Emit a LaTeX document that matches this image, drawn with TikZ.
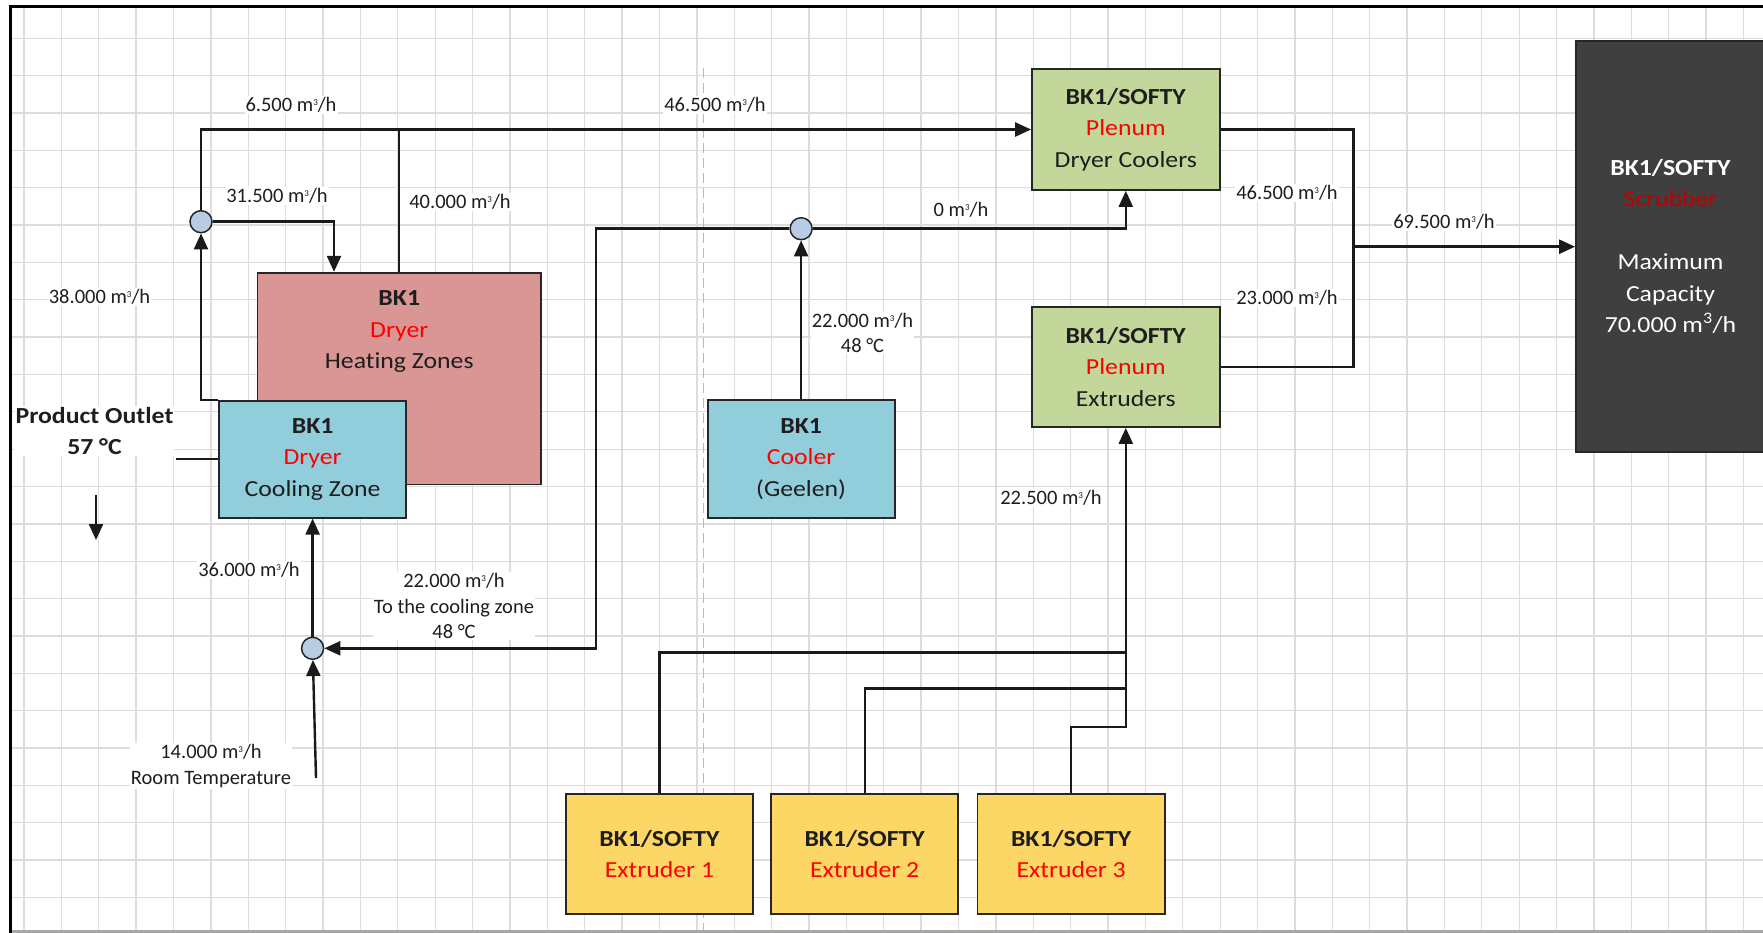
\documentclass[tikz,border=0pt]{standalone}
\usepackage{fontspec}
\setmainfont{Carlito}[Ligatures=NoCommon]
\newfontfamily\boxfont{Carlito}[FakeStretch=1.12,Ligatures=NoCommon]
\usetikzlibrary{arrows.meta}
\definecolor{heatc}{HTML}{D99694}
\definecolor{coolc}{HTML}{92CDDC}
\definecolor{plenc}{HTML}{C4D79B}
\definecolor{extc}{HTML}{FCD766}
\definecolor{scrc}{HTML}{3F3F3F}
\definecolor{juncc}{HTML}{B8CCE4}
\definecolor{gridc}{HTML}{DDDDDD}
\definecolor{txt}{HTML}{1E1E1E}
\definecolor{linec}{HTML}{1A1A1A}
\definecolor{boxline}{HTML}{262626}
\definecolor{redt}{HTML}{FF0000}
\definecolor{darkred}{HTML}{C00000}
\newcommand\cubh{m\raisebox{0.62ex}{\fontsize{9}{9}\selectfont 3}/h}
\begin{document}
\begin{tikzpicture}[x=1pt,y=-1pt,
  box/.style={draw=boxline, line width=1.8pt, inner sep=0pt, align=center,
    font=\boxfont\fontsize{23}{31.5}\selectfont, text=txt},
  conn/.style={line width=2.4pt, draw=linec},
  arr/.style={conn, -{Triangle[length=16pt,width=14pt]}},
  lbl/.style={fill=white, inner sep=1pt, align=center,
    font=\fontsize{20.5}{25.5}\selectfont, text=txt},
  junc/.style={circle, draw=boxline, fill=juncc, minimum size=22pt, inner sep=0pt, line width=1.5pt}]
\useasboundingbox (0,0) rectangle (1763,933);
\fill[white] (0,0) rectangle (1763,933);
% grid
\foreach \i in {0,...,46} \draw[gridc, line width=1.3pt] ({24+37.38*\i},7) -- ({24+37.38*\i},931);
\foreach \j in {0,...,23} \draw[gridc, line width=1.3pt] (10,{38.3+37.35*\j}) -- (1763,{38.3+37.35*\j});
% dashed divider
\draw[gray!55, line width=1.5pt, dash pattern=on 10pt off 5pt] (703.5,68) -- (703.5,931);
% frame
\draw[gray!70, line width=3pt] (10,931) -- (1763,931);
\draw[black, line width=3pt] (10,933) -- (10,7) -- (1763,7);

% boxes
\node[box, fill=heatc, minimum width=283.5pt, minimum height=211.8pt] (heat) at (399.25,378.6) {};
\node[align=center, font=\boxfont\fontsize{23}{31.5}\selectfont, text=txt, inner sep=0pt] (heattext) at (399.25,332)
  {\textbf{BK1}\\\textcolor{redt}{Dryer}\\Heating Zones};
\node[box, fill=coolc, minimum width=187.4pt, minimum height=117pt] (cool) at (312.6,459.2)
  {\textbf{BK1}\\\textcolor{redt}{Dryer}\\Cooling Zone};
\node[box, fill=coolc, minimum width=187pt, minimum height=118pt] (cooler) at (801.1,459)
  {\textbf{BK1}\\\textcolor{redt}{Cooler}\\(Geelen)};
\node[box, fill=plenc, minimum width=187.6pt, minimum height=121pt] (DC) at (1125.8,129.5)
  {\textbf{BK1/SOFTY}\\\textcolor{redt}{Plenum}\\Dryer Coolers};
\node[box, fill=plenc, minimum width=187.6pt, minimum height=120pt] (ext) at (1125.8,367)
  {\textbf{BK1/SOFTY}\\\textcolor{redt}{Plenum}\\Extruders};
\node[box, fill=scrc, minimum width=189pt, minimum height=411pt, text=white] (scr) at (1670.5,246.2)
  {\textbf{BK1/SOFTY}\\\textcolor{darkred}{Scrubber}\\[31.5pt]Maximum\\Capacity\\70.000 m\textsuperscript{3}/h};
\node[box, fill=extc, minimum width=187.3pt, minimum height=120pt] (e1) at (659.5,854)
  {\textbf{BK1/SOFTY}\\\textcolor{redt}{Extruder 1}};
\node[box, fill=extc, minimum width=187.3pt, minimum height=120pt] (e2) at (864.7,854)
  {\textbf{BK1/SOFTY}\\\textcolor{redt}{Extruder 2}};
\node[box, fill=extc, minimum width=187.3pt, minimum height=120pt] (e3) at (1071.2,854)
  {\textbf{BK1/SOFTY}\\\textcolor{redt}{Extruder 3}};

% junctions
\node[junc] (j1) at (201,221.7) {};
\node[junc] (j2) at (312.6,648.3) {};
\node[junc] (j3) at (801.1,228.7) {};

% coordinates
\coordinate (bendA) at (596,228.7);
\coordinate (roomin) at (316,778);
\coordinate (mrg) at (1353.3,246.7);
\coordinate (t1) at (1125.8,652.3);
\coordinate (t2) at (1125.8,688.3);
\coordinate (t3) at (1125.8,726.7);
\coordinate (po) at (176,459.2);
\coordinate (pa1) at (96,495);
\coordinate (pa2) at (96,540);

% connectors
\draw[conn] (heat.north) -- (heat.north |- DC.west);
\draw[arr] (j1) |- (DC.west);
\draw[arr] (j1.east) -| ([xshift=-65.25pt]heat.north);
\draw[arr] (cool.north west) -- (cool.north west -| j1) -- (j1);
\draw[arr] (j2) -- (j2 |- cool.south);
\draw[arr] (roomin) -- (j2);
\draw[arr] (j3) -- (bendA) -- (bendA |- j2) -- (j2);
\draw[arr] (j3) -| (DC.south);
\draw[arr] (cooler.north) -- (j3);
\draw[conn] (DC.east) -| (mrg) |- (ext.east);
\draw[arr] (mrg) -- (mrg -| scr.west);
\draw[arr] (e3.north) |- (t3) -- (ext.south);
\draw[conn] (e2.north) |- (t2);
\draw[conn] (e1.north) |- (t1);
\draw[conn] (po) -- (cool.west);
\draw[arr] (pa1) -- (pa2);

% labels
\node[lbl] (l1) at (291,105) {6.500 \cubh};
\node[lbl] (l2) at (715,105) {46.500 \cubh};
\node[lbl] (l3) at (277,196) {31.500 \cubh};
\node[lbl] (l4) at (460,202) {40.000 \cubh};
\node[lbl] (l5) at (99.5,297) {38.000 \cubh};
\node[lbl] (l6) at (961,210) {0 \cubh};
\node[lbl] (l7) at (1287,193) {46.500 \cubh};
\node[lbl] (l8) at (1444,222) {69.500 \cubh};
\node[lbl] (l9) at (1287,298) {23.000 \cubh};
\node[lbl] (l10) at (862.5,333) {22.000 \cubh\\48 °C};
\node[lbl] (l11) at (1051,498) {22.500 \cubh};
\node[lbl] (l12) at (249,570) {36.000 \cubh};
\node[lbl] (l13) at (454,606) {22.000 \cubh\\To the cooling zone\\48 °C};
\node[lbl] (l14) at (211,766) {14.000 \cubh\\Room Temperature};
\node[fill=white, inner sep=1pt, align=center, font=\boxfont\fontsize{23}{31.5}\selectfont\bfseries, text=txt] (pout) at (94.5,431) {Product Outlet\\57 °C};
\end{tikzpicture}
\end{document}
